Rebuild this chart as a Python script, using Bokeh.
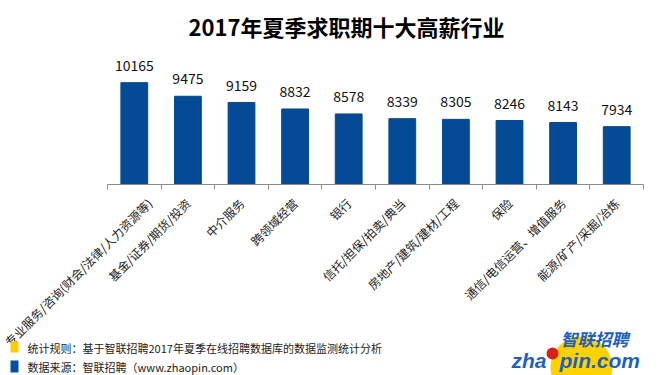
import math
from bokeh.plotting import figure
from bokeh.layouts import column
from bokeh.core.properties import value
from bokeh.models import Range1d, FixedTicker, LabelSet, ColumnDataSource
from bokeh.embed import file_html
from bokeh.resources import INLINE

title = "2017年夏季求职期十大高薪行业"
categories = ["专业服务/咨询(财会/法律/人力资源等)", "基金/证券/期货/投资", "中介服务", "跨领域经营", "银行",
              "信托/担保/拍卖/典当", "房地产/建筑/建材/工程", "保险", "通信/电信运营、增值服务", "能源/矿产/采掘/冶炼"]
salaries = [10165, 9475, 9159, 8832, 8578, 8339, 8305, 8246, 8143, 7934]
footer_lines = ["统计规则：基于智联招聘2017年夏季在线招聘数据库的数据监测统计分析",
                "数据来源：智联招聘（www.zhaopin.com）"]
logo_cn = "智联招聘"
logo_en = ["zha", "pin.com"]

FONT = "Noto Sans CJK SC"
BAR = "#044A94"
W, H = 664, 375
FOOT_H = 60

n = len(categories)
centers = [i + 0.5 for i in range(n)]
bounds = [float(i) for i in range(n + 1)]

p = figure(width=W, height=H, output_backend="svg", toolbar_location=None,
           x_range=Range1d(0, n), y_range=Range1d(5000, 12000),
           min_border_left=107, min_border_right=21, min_border_top=46, min_border_bottom=H - 184)
p.frame_align = False
p.outline_line_color = None
p.xgrid.grid_line_color = None
p.ygrid.grid_line_color = None
p.yaxis.visible = False

src = ColumnDataSource(dict(x=centers, top=salaries, lab=[str(v) for v in salaries]))
p.vbar(x="x", top="top", bottom=5000, width=0.5, color=BAR, source=src)
p.add_layout(LabelSet(x="x", y="top", text="lab", source=src, y_offset=12, text_align="center",
                      text_baseline="bottom", text_font=value(FONT), text_font_size="14px",
                      text_color="#111111"))

ax = p.xaxis[0]
ax.ticker = FixedTicker(ticks=centers, minor_ticks=bounds)
ax.major_label_overrides = {c: lab for c, lab in zip(centers, categories)}
ax.major_tick_line_color = None
ax.minor_tick_line_color = "#8c8c8c"
ax.minor_tick_out = 5
ax.minor_tick_in = 0
ax.axis_line_color = "#8c8c8c"
ax.major_label_orientation = math.pi / 4
ax.major_label_text_font = FONT
ax.major_label_text_font_size = "12px"
ax.major_label_text_color = "#222222"
ax.major_label_standoff = 10

p.title.text = title
p.title.align = "left"
p.title.offset = 81
p.title.text_font = FONT
p.title.text_font_size = "22px"
p.title.text_font_style = "bold"
p.title.text_color = "black"

# footer overlay: pixel coordinates, y pointing down from its top edge (canvas y = H - FOOT_H + y)
top0 = H - FOOT_H
f = figure(width=W, height=FOOT_H, output_backend="svg", toolbar_location=None,
           x_range=Range1d(0, W), y_range=Range1d(FOOT_H, 0),
           min_border=0, margin=(-FOOT_H, 0, 0, 0))
f.frame_align = False
f.axis.visible = False
f.grid.visible = False
f.outline_line_color = None
f.background_fill_alpha = 0
f.border_fill_alpha = 0

f.quad(left=[10, 10], right=[18, 18], top=[341 - top0, 360 - top0], bottom=[352 - top0, 372 - top0],
       color=["#FFCC00", "#0350A0"], line_color=None)
f.text(x=[27, 27], y=[347 - top0, 366 - top0], text=footer_lines, text_font=value(FONT),
       text_font_size="11px", text_baseline="middle", text_color="#222222")

f.circle(x=[581], y=[367 - top0], radius=31, color="#FFD200", line_color=None)
f.text(x=[560], y=[350 - top0], text=[logo_cn], text_font=value(FONT), text_font_size="17px",
       text_font_style="bold italic", text_baseline="bottom", text_color="#1F5FBF")
f.text(x=[546], y=[360 - top0], text=[logo_en[0]], text_font=value("Liberation Sans"), text_font_size="21px",
       text_font_style="bold italic", text_baseline="alphabetic", text_align="right", text_color="#1F5FBF")
f.circle(x=[552], y=[353 - top0], radius=6, color="#D8201E", line_color=None)
f.text(x=[559], y=[360 - top0], text=[logo_en[1]], text_font=value("Liberation Sans"), text_font_size="21px",
       text_font_style="bold italic", text_baseline="alphabetic", text_color="#1F5FBF")

open("out.html", "w").write(file_html(column(p, f, spacing=0), INLINE))
